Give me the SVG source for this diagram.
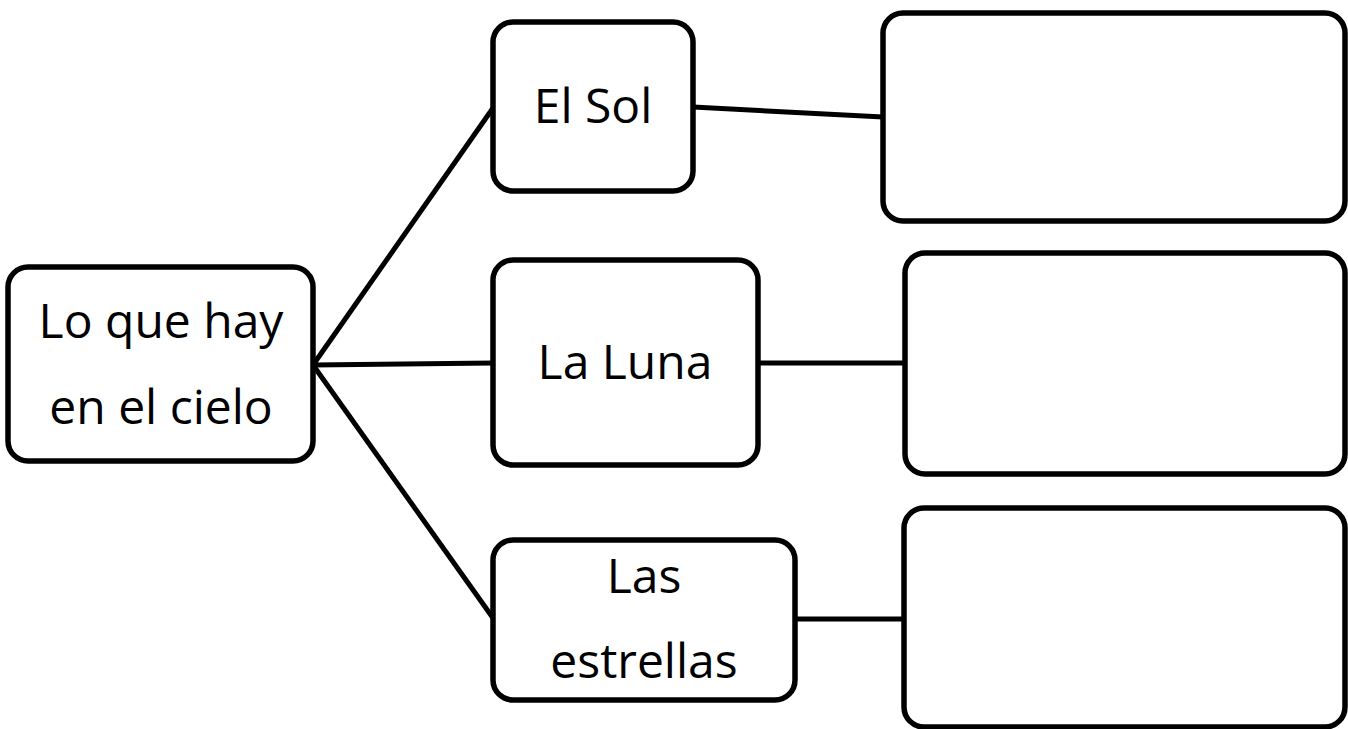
<svg xmlns="http://www.w3.org/2000/svg" width="1348" height="729" viewBox="0 0 1348 729">
<style>
.box{fill:#fff;stroke:#000;stroke-width:5.5}
.lbl{font-family:"Open Sans","Noto Sans","Liberation Sans",sans-serif;font-size:48px;fill:#000;text-anchor:middle}
.conn line{stroke:#000;stroke-width:5}
</style>
<rect width="1348" height="729" fill="#fff"/>
<g id="connectors" class="conn">
<line x1="313" y1="365" x2="493" y2="108"/>
<line x1="313" y1="365" x2="493" y2="363"/>
<line x1="313" y1="365" x2="493" y2="618"/>
<line x1="693" y1="107" x2="883" y2="117"/>
<line x1="758" y1="363" x2="905" y2="363"/>
<line x1="795" y1="619" x2="904" y2="619"/>
</g>
<g id="root">
<rect class="box" x="8" y="267" width="305" height="194" rx="20"/>
<text class="lbl" x="161" y="338">Lo que hay</text>
<text class="lbl" x="161" y="424">en el cielo</text>
</g>
<g id="sol">
<rect class="box" x="493" y="22" width="200" height="169" rx="20"/>
<text class="lbl" x="593" y="123">El Sol</text>
</g>
<g id="luna">
<rect class="box" x="493" y="260" width="265" height="205" rx="20"/>
<text class="lbl" x="625" y="379">La Luna</text>
</g>
<g id="estrellas">
<rect class="box" x="493" y="540" width="302" height="160" rx="20"/>
<text class="lbl" x="644" y="593">Las</text>
<text class="lbl" x="644" y="678">estrellas</text>
</g>
<g id="blank1">
<rect class="box" x="883" y="13" width="462" height="208" rx="20"/>
</g>
<g id="blank2">
<rect class="box" x="905" y="253" width="440" height="221" rx="20"/>
</g>
<g id="blank3">
<rect class="box" x="904" y="508" width="441" height="219" rx="20"/>
</g>
</svg>
